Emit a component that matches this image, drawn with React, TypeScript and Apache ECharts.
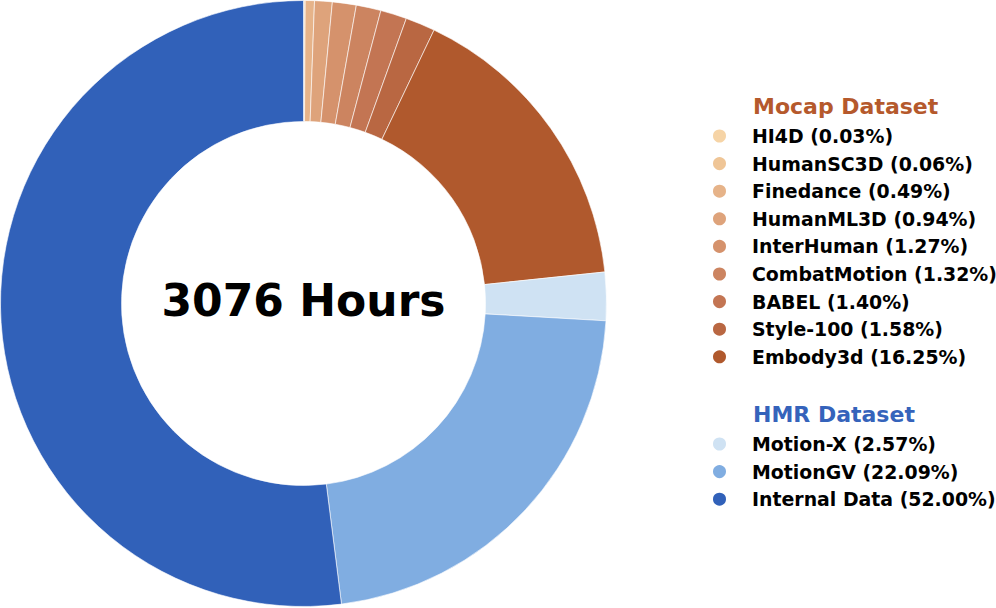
import React, { useEffect, useRef } from "react";
import * as echarts from "echarts";

const mocapNames = ["HI4D", "HumanSC3D", "Finedance", "HumanML3D", "InterHuman", "CombatMotion", "BABEL", "Style-100", "Embody3d"];
const mocapValues = [0.03, 0.06, 0.49, 0.94, 1.27, 1.32, 1.4, 1.58, 16.25];
const mocapColors = ["#f6d4a6", "#efc596", "#e6b389", "#dea37b", "#d5926c", "#cc8460", "#c37553", "#b96742", "#b0592d"];
const hmrNames = ["Motion-X", "MotionGV", "Internal Data"];
const hmrValues = [2.57, 22.09, 52.0];
const hmrColors = ["#cfe2f3", "#80ade1", "#3161b9"];
const centerText = "3076 Hours";
const mocapTitle = "Mocap Dataset";
const hmrTitle = "HMR Dataset";

const FONT = "DejaVu Sans";

export default function App() {
  const ref = useRef<HTMLDivElement>(null);
  useEffect(() => {
    const chart = echarts.init(ref.current!, null, { renderer: "svg" });
    const data = [
      ...mocapNames.map((n, i) => ({ name: n, value: mocapValues[i], itemStyle: { color: mocapColors[i] } })),
      ...hmrNames.map((n, i) => ({ name: n, value: hmrValues[i], itemStyle: { color: hmrColors[i] } })),
    ];
    const valueOf: Record<string, number> = {};
    data.forEach((d) => (valueOf[d.name] = d.value));
    const legendCommon = {
      orient: "vertical",
      left: 711,
      icon: "circle",
      itemWidth: 15,
      itemHeight: 15,
      itemGap: 7.6,
      selectedMode: false,
      formatter: (n: string) => `${n} (${valueOf[n].toFixed(2)}%)`,
      textStyle: {
        fontFamily: FONT,
        fontWeight: "bold",
        fontSize: 18.9,
        color: "#000",
        lineHeight: 20,
        padding: [0, 0, 0, 20],
      },
    };
    chart.setOption({
      animation: false,
      title: [
        {
          text: mocapTitle,
          left: 753,
          top: 95,
          padding: 0,
          textStyle: { fontFamily: FONT, fontWeight: "bold", fontSize: 22, color: "#b5592c" },
        },
        {
          text: hmrTitle,
          left: 753,
          top: 403,
          padding: 0,
          textStyle: { fontFamily: FONT, fontWeight: "bold", fontSize: 22, color: "#3563bb" },
        },
        {
          text: centerText,
          left: 303.5,
          top: 300,
          textAlign: "center",
          textVerticalAlign: "middle",
          padding: 0,
          textStyle: { fontFamily: FONT, fontWeight: "bold", fontSize: 44, color: "#000" },
        },
      ],
      legend: [
        { ...legendCommon, top: 126, padding: 0, data: mocapNames },
        { ...legendCommon, top: 434, padding: 0, data: hmrNames },
      ],
      series: [
        {
          type: "pie",
          center: [303.5, 303.5],
          radius: [182, 303],
          startAngle: 90,
          clockwise: true,
          label: { show: false },
          labelLine: { show: false },
          emphasis: { disabled: true },
          itemStyle: { borderColor: "#ffffff", borderWidth: 0.6 },
          data,
        },
      ],
    });
    return () => chart.dispose();
  }, []);
  return (
    <div
      ref={ref}
      style={{ position: "fixed", left: 0, top: 0, width: 996, height: 608, background: "#fff" }}
    />
  );
}
